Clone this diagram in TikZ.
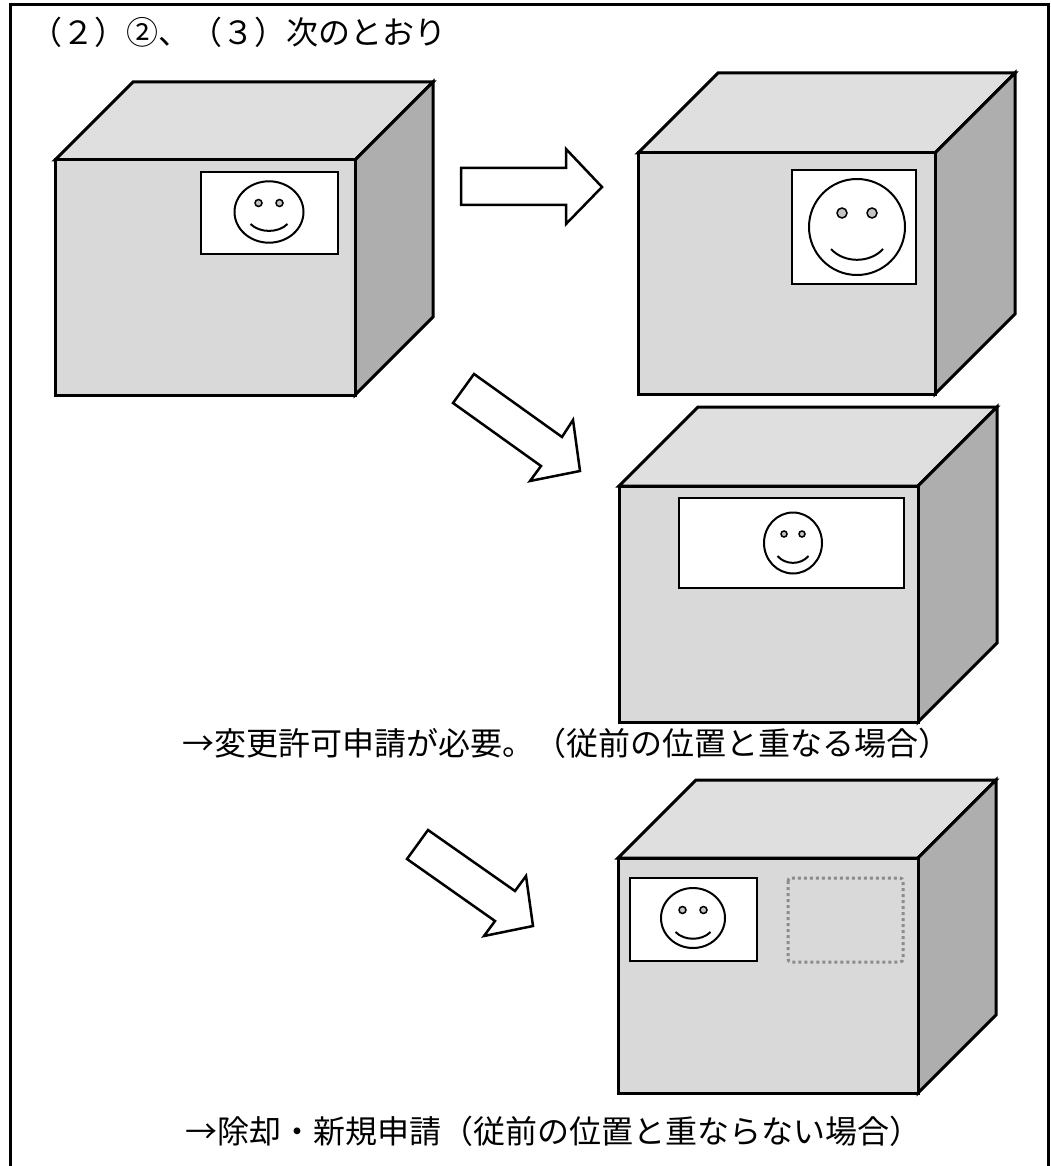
\documentclass[tikz,border=0pt]{standalone}
\usepackage{fontspec}
\newfontfamily\jpfont{Noto Sans CJK JP}
\definecolor{frontgray}{HTML}{D9D9D9}
\definecolor{topgray}{HTML}{DFDFDF}
\definecolor{sidegray}{HTML}{AEAEAE}
\definecolor{eyegray}{HTML}{C4C4C4}
\definecolor{dotgray}{HTML}{8C8C8C}
\tikzset{
  cubeedge/.style={draw=black, line width=3pt},
  signbox/.style={draw=black, fill=white, line width=2pt},
  faceline/.style={draw=black, line width=2pt},
  eyeline/.style={draw=black, fill=eyegray, line width=1.5pt},
  blockarrow/.style={draw=black, fill=white, line width=2.5pt},
  vacant/.style={draw=dotgray, line width=3pt, dash pattern=on 3pt off 3pt, rounded corners=3pt},
  frameline/.style={draw=black, line width=3pt},
  caption/.style={inner sep=0pt, font=\jpfont\fontsize{32}{38}\selectfont}
}
% box: left x, top y, right x, bottom y, depth of the receding faces
\newcommand{\boxcube}[5]{%
  \filldraw[cubeedge, fill=topgray] (#1,#2) -- ++(#5,-#5) -- ++(#3-#1,0) -- (#3,#2) -- cycle;
  \filldraw[cubeedge, fill=sidegray] (#3,#2) -- ++(#5,-#5) -- ++(0,#4-#2) -- (#3,#4) -- cycle;
  \filldraw[cubeedge, fill=frontgray] (#1,#2) rectangle (#3,#4);
}
% smiling face: centre x, centre y, radius x, radius y, eye offset x, eye offset y, eye radius, smile half width, smile offset y
\newcommand{\smileface}[9]{%
  \draw[faceline] (#1,#2) ellipse [x radius=#3, y radius=#4];
  \filldraw[eyeline] (#1-#5,#2-#6) circle [radius=#7];
  \filldraw[eyeline] (#1+#5,#2-#6) circle [radius=#7];
  \draw[faceline] (#1-#8,#2+#9) .. controls (#1-#8/2,#2+#9+0.3*#4) and (#1+#8/2,#2+#9+0.3*#4) .. (#1+#8,#2+#9);
}
\begin{document}
\begin{tikzpicture}[x=1pt,y=-1pt]
\useasboundingbox (0,0) rectangle (1050,1166);

% outer frame, open at the bottom
\draw[frameline] (10,1170) -- (10,5) -- (1048,5) -- (1048,1170);

% heading
\node[caption, anchor=base west] (title) at (30,45) {（２）②、（３）次のとおり};

% existing sign
\boxcube{55}{160}{355}{395}{78}
\filldraw[signbox] (201,172) rectangle (338,254);
\smileface{269}{212}{34.5}{30.7}{10.5}{9}{3.5}{18.5}{12}

% enlarged sign
\draw[blockarrow] (461,168) -- (566,168) -- (566,149) -- (602,187) -- (566,224) -- (566,205) -- (461,205) -- cycle;
\boxcube{638}{153}{935}{394}{80}
\filldraw[signbox] (792,170) rectangle (916,284);
\smileface{857}{227}{48}{48}{15}{14}{5}{26}{22}

% widened sign overlapping the former position
\draw[blockarrow] (474,374) -- (562,437) -- (573,420) -- (580,471) -- (530,481) -- (541,466) -- (453,403) -- cycle;
\boxcube{619}{486}{918}{722}{79}
\filldraw[signbox] (679,498) rectangle (904,588);
\smileface{793}{543}{29}{30.5}{9}{9}{3}{15.5}{13}
\node[caption] (overlap) at (566,743) {→変更許可申請が必要。（従前の位置と重なる場合）};

% relocated sign away from the former position
\draw[blockarrow] (428,830) -- (515,891) -- (526,876) -- (533,926) -- (484,936) -- (495,921) -- (407,859) -- cycle;
\boxcube{618}{858}{918}{1093}{78}
\filldraw[signbox] (630,878) rectangle (757,961);
\smileface{693}{918}{32}{30}{10.5}{8}{3.5}{17.5}{14}
\draw[vacant] (788,878) rectangle (903,962);
\node[caption] (separate) at (553,1131) {→除却・新規申請（従前の位置と重ならない場合）};
\end{tikzpicture}
\end{document}
